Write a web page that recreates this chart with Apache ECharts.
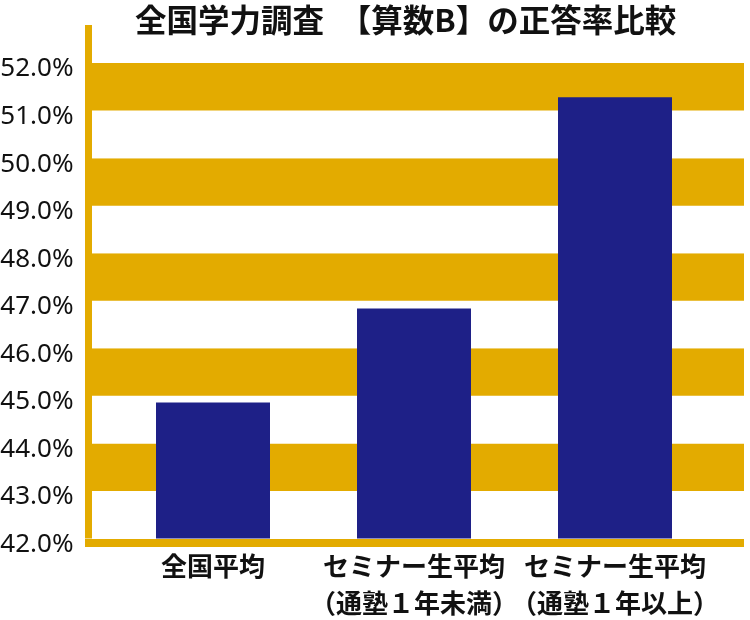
<!DOCTYPE html>
<html>
<head>
<meta charset="utf-8">
<script src="https://cdn.jsdelivr.net/npm/echarts@6/dist/echarts.min.js"></script>
<style>
  html, body { margin: 0; padding: 0; background: #ffffff; }
  #chart { width: 750px; height: 620px; }
</style>
</head>
<body>
<div id="chart"></div>
<script>
// 全国学力調査【算数B】正答率（%）
const titleText = '全国学力調査　【算数B】の正答率比較';
const categories = ['全国平均', 'セミナー生平均\n（通塾１年未満）', 'セミナー生平均\n（通塾１年以上）'];
const rates = [44.86, 46.84, 51.28];
const yMin = 42;
const yMax = 52.8;
const yStep = 1;

const GOLD = '#E3AB00';
const NAVY = '#1E2087';
const JP = '"Noto Sans CJK JP", "Noto Sans", sans-serif';

const chart = echarts.init(document.getElementById('chart'), null, { renderer: 'canvas' });

chart.setOption({
  animation: false,
  backgroundColor: '#ffffff',
  title: {
    text: titleText,
    left: 130,
    top: -1,
    textStyle: { fontFamily: JP, fontSize: 31.5, fontWeight: 'bold', color: '#111111' }
  },
  grid: [
    // striped background + axes
    { left: 85, right: 6, top: 25, bottom: 81.5, outerBoundsMode: 'none', containLabel: false },
    // bars
    { left: 112.5, right: 34.5, top: 25, bottom: 81.5, outerBoundsMode: 'none', containLabel: false }
  ],
  xAxis: [
    {
      type: 'category',
      gridIndex: 0,
      data: categories,
      offset: 4,
      axisLine: { show: true, lineStyle: { color: GOLD, width: 8, cap: 'butt' } },
      axisTick: { show: false },
      axisLabel: { show: false },
      splitLine: { show: false }
    },
    {
      type: 'category',
      gridIndex: 1,
      data: categories,
      axisLine: { show: false },
      axisTick: { show: false },
      axisLabel: {
        margin: 9,
        fontFamily: JP,
        fontSize: 26,
        fontWeight: 'bold',
        lineHeight: 37,
        color: '#111111',
        interval: 0
      }
    }
  ],
  yAxis: [
    {
      type: 'value',
      gridIndex: 0,
      min: yMin,
      max: yMax,
      interval: yStep,
      offset: -3.5,
      axisLine: { show: true, lineStyle: { color: GOLD, width: 7, cap: 'butt' } },
      axisTick: { show: false },
      splitLine: { show: false },
      splitArea: { show: true, areaStyle: { color: ['#ffffff', GOLD] } },
      axisLabel: {
        margin: 15,
        verticalAlign: 'top',
        lineHeight: 12,
        fontFamily: '"Noto Sans", sans-serif',
        fontSize: 26,
        color: '#111111',
        formatter: v => (Math.abs(v - Math.round(v)) < 1e-6 ? v.toFixed(1) + '%' : '')
      }
    },
    {
      type: 'value',
      gridIndex: 1,
      min: yMin,
      max: yMax,
      interval: yStep,
      show: false,
      splitLine: { show: false }
    }
  ],
  series: [
    {
      type: 'bar',
      xAxisIndex: 1,
      yAxisIndex: 1,
      data: rates,
      barWidth: 114,
      itemStyle: { color: NAVY }
    }
  ]
});
</script>
</body>
</html>
